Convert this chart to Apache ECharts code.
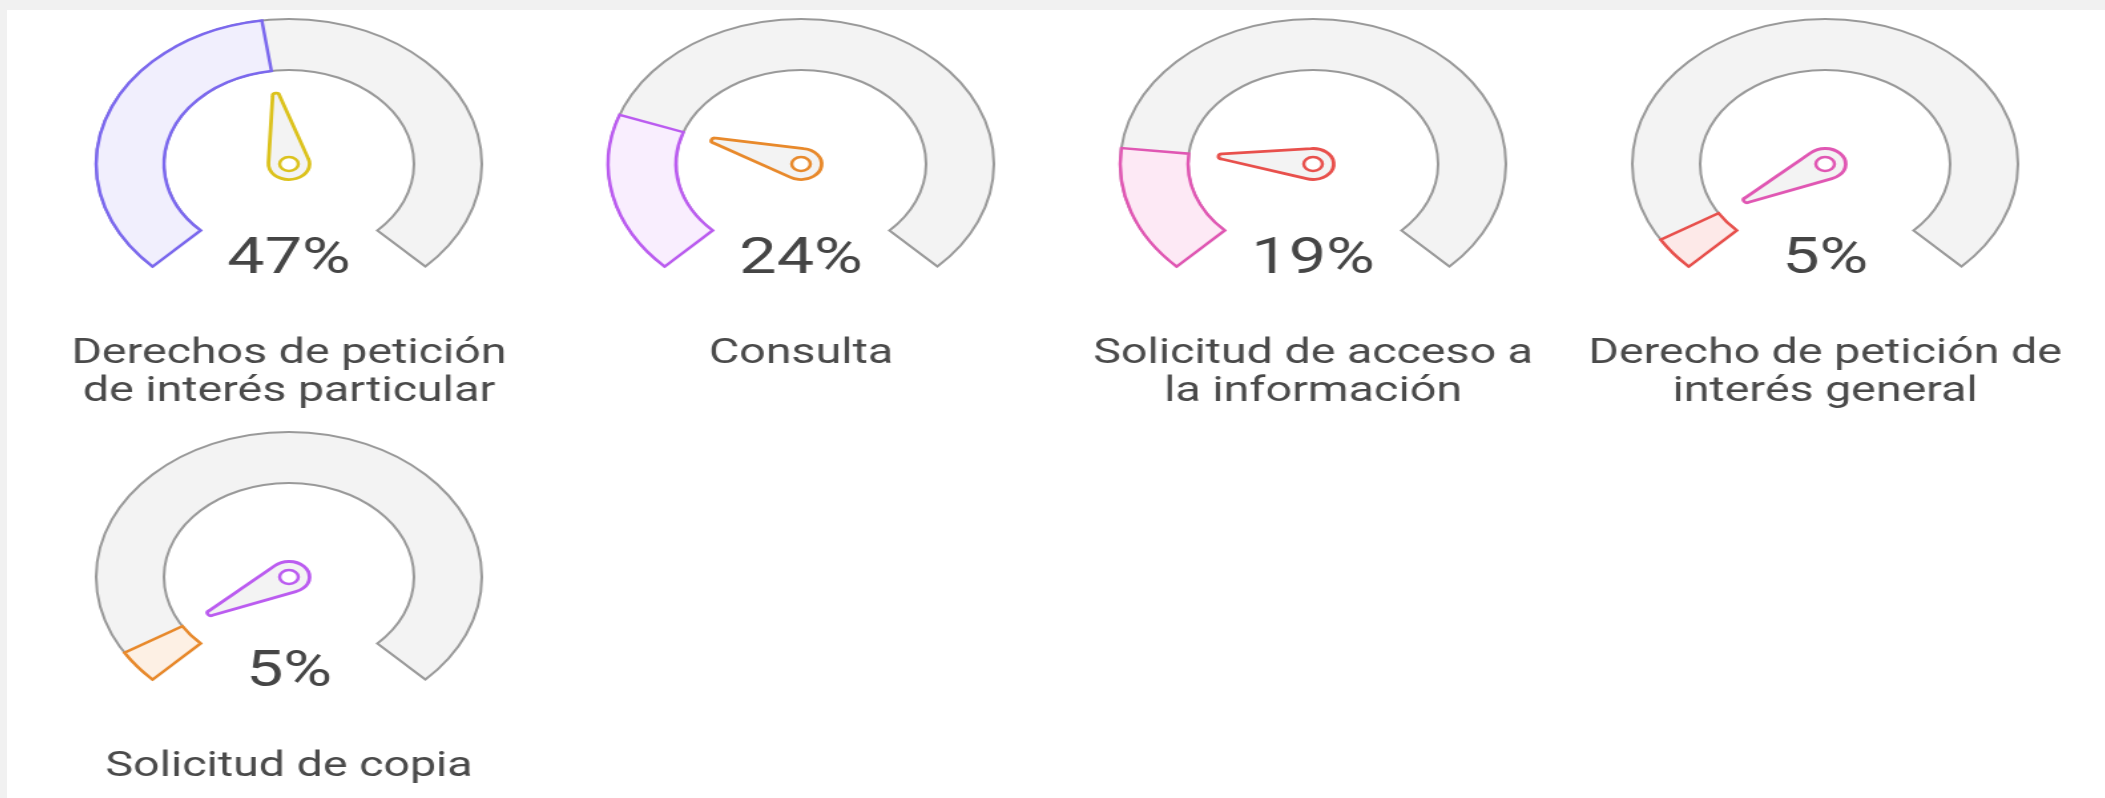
<!DOCTYPE html>
<html>
<head>
<meta charset="utf-8">
<script src="https://cdn.jsdelivr.net/npm/echarts@6/dist/echarts.min.js"></script>
<style>
html,body{margin:0;padding:0;background:#f1f1f1;overflow:hidden;}
#panel{position:absolute;left:7px;top:10px;width:2098px;height:788px;background:#fff;overflow:hidden;}
/* the reference is stretched sideways, so the chart is drawn narrow and scaled */
#main{width:1577px;height:788px;transform:scaleX(1.33);transform-origin:0 0;}
</style>
</head>
<body>
<div id="panel"><div id="main"></div></div>
<script>
var categories = [
	'Derechos de petición\nde interés particular',
	'Consulta',
	'Solicitud de acceso a\nla información',
	'Derecho de petición de\ninterés general',
	'Solicitud de copia'
];
var values = [47, 24, 19, 5, 5];
var gaugeMax = 100;
var progressColors = ['#7b68ee', '#bb5cf0', '#e057b3', '#e8504c', '#e8892b'];
var progressFills = ['#f1effd', '#f9eefe', '#fde9f5', '#fde9e8', '#fdf0e4'];
var pointerColors = ['#dcc21c', '#e8892b', '#e8504c', '#e057b3', '#bb5cf0'];

var myChart = echarts.init(document.getElementById('main'));

//圆心位置，每行四个
var colX = [212, 597, 982, 1367];
var rowY = [154, 567];
var radius = 145;
var bandWidth = 51;
var pointerIcon = 'path://M12.5,3 A2.5,2.5 0 0 1 17.5,3 L29.64,66.73 A15,15 0 1 1 0.36,66.73 Z';

var series = [];
for (var i = 0; i < values.length; i++) {
	var center = [colX[i % 4], rowY[Math.floor(i / 4)]];
	var twoLines = categories[i].indexOf('\n') >= 0;
	//灰色底环
	series.push({
		type: 'gauge',
		center: center,
		radius: radius,
		startAngle: 225,
		endAngle: -45,
		min: 0,
		max: gaugeMax,
		silent: true,
		axisLine: { show: false },
		splitLine: { show: false },
		axisTick: { show: false },
		axisLabel: { show: false },
		pointer: { show: false },
		anchor: { show: false },
		title: { show: false },
		detail: { show: false },
		progress: {
			show: true,
			width: bandWidth,
			itemStyle: { color: '#f3f3f3', borderColor: '#999', borderWidth: 2 }
		},
		data: [{ value: gaugeMax, name: '' }]
	});
	//数值环、指针、文字
	series.push({
		type: 'gauge',
		center: center,
		radius: radius,
		startAngle: 225,
		endAngle: -45,
		min: 0,
		max: gaugeMax,
		axisLine: { show: false },
		splitLine: { show: false },
		axisTick: { show: false },
		axisLabel: { show: false },
		progress: {
			show: true,
			width: bandWidth,
			itemStyle: { color: progressFills[i], borderColor: progressColors[i], borderWidth: 2.5 }
		},
		pointer: {
			show: true,
			icon: pointerIcon,
			width: 31,
			length: 87,
			offsetCenter: [0, 15.5],
			itemStyle: { color: '#f3f3f3', borderColor: pointerColors[i], borderWidth: 2.8 }
		},
		anchor: {
			show: true,
			showAbove: true,
			size: 14,
			itemStyle: { color: '#fff', borderColor: pointerColors[i], borderWidth: 2.5 }
		},
		title: {
			show: true,
			offsetCenter: [0, twoLines ? 209 : 190],
			fontFamily: 'Roboto',
			fontSize: 35,
			lineHeight: 38,
			color: '#4a4a4a'
		},
		detail: {
			show: true,
			offsetCenter: [0, 96],
			formatter: '{value}%',
			fontFamily: 'Roboto',
			fontSize: 50,
			fontWeight: 'normal',
			color: '#454545'
		},
		data: [{ value: values[i], name: categories[i] }]
	});
}

myChart.setOption({
	animation: false,
	series: series
});
</script>
</body>
</html>
